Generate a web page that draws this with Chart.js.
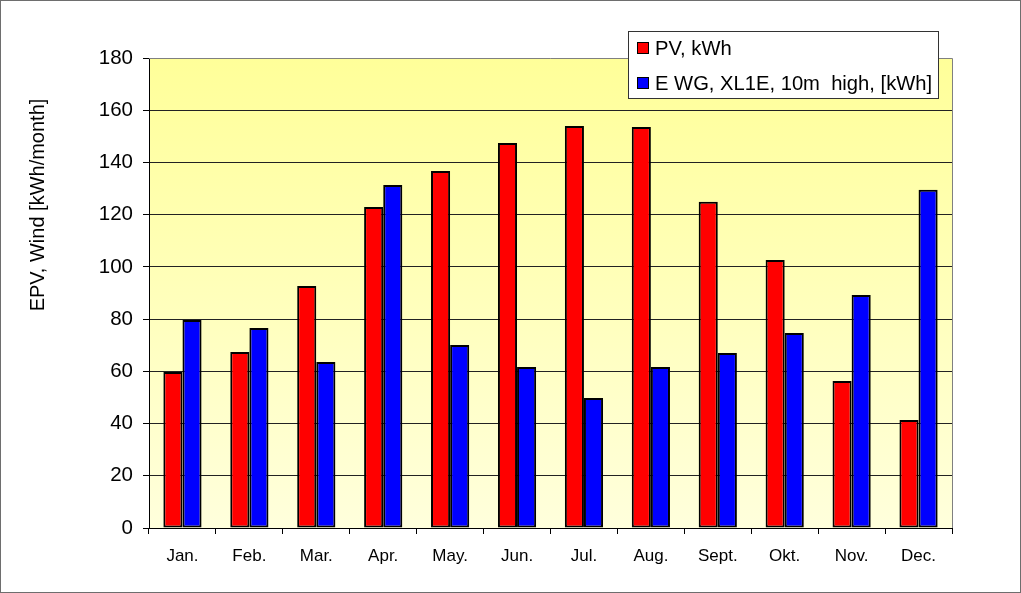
<!DOCTYPE html>
<html><head><meta charset="utf-8">
<script src="https://cdn.jsdelivr.net/npm/chart.js@4.4.1/dist/chart.umd.min.js"></script>
<style>html,body{margin:0;padding:0;background:#fff}#wrap{width:1021px;height:593px}</style>
</head><body><div id="wrap"><canvas id="c" width="1021" height="593"></canvas></div>
<script>
const months = ["Jan.","Feb.","Mar.","Apr.","May.","Jun.","Jul.","Aug.","Sept.","Okt.","Nov.","Dec."];
const pvValues = [59.7, 67.4, 92.7, 122.9, 136.7, 147.4, 154, 153.6, 124.9, 102.6, 56.3, 41.4];
const windValues = [79.7, 76.6, 63.6, 131.4, 70.1, 61.7, 49.8, 61.7, 67, 74.7, 89.2, 129.5];
const seriesLabels = ["PV, kWh", "E WG, XL1E, 10m  high, [kWh]"];
const yTicks = [0,20,40,60,80,100,120,140,160,180];
const yTitle = "EPV, Wind [kWh/month]";
const FONT = "'Liberation Sans', Arial, sans-serif";

const bgPlugin = {
  id:'bg',
  beforeDraw(chart){
    const {ctx, chartArea:a} = chart;
    const g = ctx.createLinearGradient(0,a.top,0,a.bottom);
    g.addColorStop(0,'#ffff99');
    g.addColorStop(1,'#ffffdc');
    ctx.save();
    ctx.fillStyle='#fff';ctx.fillRect(0,0,chart.width,chart.height);
    ctx.fillStyle=g;ctx.fillRect(a.left,a.top,a.right-a.left,a.bottom-a.top);
    ctx.restore();
  },
  afterDraw(chart){
    const {ctx, chartArea:a} = chart;
    ctx.save();
    ctx.strokeStyle='#808080';ctx.lineWidth=1;
    ctx.beginPath();
    ctx.moveTo(a.left,a.top+0.5);ctx.lineTo(a.right+0.5,a.top+0.5);ctx.lineTo(a.right+0.5,a.bottom);
    ctx.stroke();
    // outer frame
    ctx.strokeStyle='#6e6e6e';
    ctx.strokeRect(0.5,0.5,chart.width-1,chart.height-1);
    // y title
    ctx.save();
    ctx.translate(38,205);ctx.rotate(-Math.PI/2);
    ctx.font='20px '+FONT;ctx.fillStyle='#000';ctx.textAlign='center';ctx.textBaseline='middle';
    ctx.fillText(yTitle,0,0);
    ctx.restore();
    // legend
    const lx=628, ly=31, lw=310, lh=67;
    ctx.fillStyle='#fff';ctx.fillRect(lx,ly,lw,lh);
    ctx.strokeStyle='#333';ctx.strokeRect(lx+0.5,ly+0.5,lw,lh);
    ctx.font='20.2px '+FONT;ctx.textBaseline='middle';
    chart.data.datasets.forEach((ds,i)=>{
      const cy = ly+17+i*35;
      ctx.fillStyle=ds.backgroundColor;ctx.fillRect(637,cy-6,12,12);
      ctx.strokeStyle='#000';ctx.strokeRect(637.5,cy-5.5,11,11);
      ctx.fillStyle='#000';ctx.fillText(ds.label,655,cy+1);
    });
    ctx.restore();
  }
};

new Chart(document.getElementById('c'),{
  type:'bar',
  data:{labels:months,datasets:[
    {label:seriesLabels[0],data:pvValues,backgroundColor:'#ff0000',borderColor:'#000',borderWidth:2,borderSkipped:false},
    {label:seriesLabels[1],data:windValues,backgroundColor:'#0000ff',borderColor:'#000',borderWidth:2,borderSkipped:false}
  ]},
  options:{
    responsive:false,animation:false,
    layout:{padding:{top:58,right:69,bottom:0,left:0}},
    datasets:{bar:{categoryPercentage:0.571,barPercentage:1}},
    plugins:{legend:{display:false},tooltip:{enabled:false}},
    scales:{
      x:{
        grid:{display:true,drawOnChartArea:false,offset:true,color:'#000',tickLength:6},
        border:{color:'#000',width:1},
        ticks:{color:'#000',font:{family:FONT,size:17},padding:12},
        afterFit(s){s.height=65;}
      },
      y:{
        min:0,max:180,
        afterBuildTicks(s){s.ticks=yTicks.map(v=>({value:v}));},
        grid:{color:(c)=>c.tick && c.tick.value===180?'rgba(0,0,0,0)':'#222',tickColor:'#000',tickLength:6},
        border:{color:'#000',width:1},
        ticks:{color:'#000',font:{family:FONT,size:20.5},padding:10},
        afterFit(s){s.width=149;}
      }
    }
  },
  plugins:[bgPlugin]
});
</script></body></html>
